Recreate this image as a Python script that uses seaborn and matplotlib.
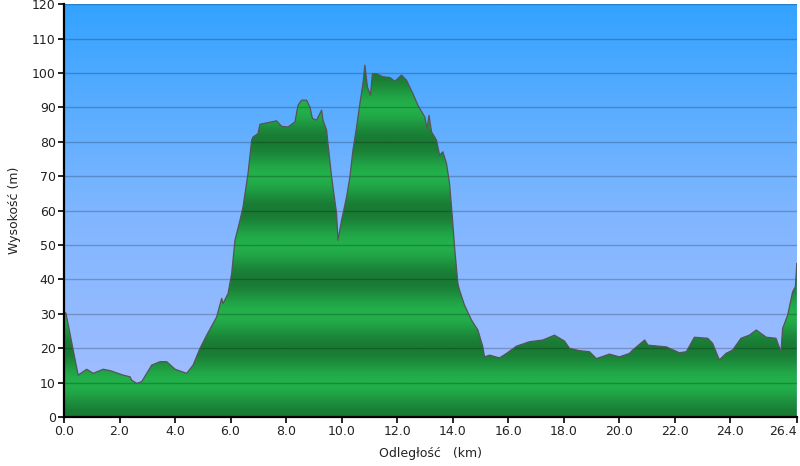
import numpy as np
import matplotlib
matplotlib.use("Agg")
import matplotlib.pyplot as plt
import seaborn as sns
from matplotlib.colors import LinearSegmentedColormap

# elevation profile
distance_km = [0.00, 0.07, 0.51, 0.82, 1.05, 1.41, 1.66, 2.13, 2.38, 2.44, 2.62, 2.80,
               2.98, 3.16, 3.46, 3.70, 4.00, 4.42, 4.65, 4.90, 5.14, 5.50, 5.68, 5.73,
               5.91, 6.04, 6.16, 6.34, 6.45, 6.63, 6.76, 6.81, 6.99, 7.06, 7.30, 7.66,
               7.84, 8.07, 8.32, 8.43, 8.56, 8.74, 8.86, 8.95, 9.10, 9.28, 9.33, 9.46,
               9.51, 9.64, 9.82, 9.87, 10.00, 10.18, 10.30, 10.41, 10.54, 10.66, 10.77,
               10.84, 10.93, 11.04, 11.11, 11.26, 11.49, 11.74, 11.92, 12.16, 12.34,
               12.57, 12.75, 13.00, 13.08, 13.15, 13.24, 13.42, 13.53, 13.65, 13.78,
               13.89, 13.99, 14.07, 14.19, 14.25, 14.43, 14.68, 14.91, 15.09, 15.15,
               15.33, 15.69, 15.94, 16.30, 16.77, 17.25, 17.67, 18.03, 18.21, 18.57,
               18.93, 19.18, 19.65, 20.01, 20.37, 20.49, 20.92, 21.04, 21.70, 22.17,
               22.42, 22.71, 23.19, 23.37, 23.61, 23.85, 24.09, 24.39, 24.69, 24.94,
               25.30, 25.65, 25.83, 25.89, 26.07, 26.25, 26.35, 26.40]
elevation_m = [30.5, 30.2, 12.2, 13.9, 12.7, 13.9, 13.5, 12.2, 11.7, 10.7, 9.8, 10.3,
               12.7, 15.1, 16.1, 16.1, 13.9, 12.7, 15.1, 20.0, 23.8, 29.1, 34.5, 33.0,
               35.9, 41.7, 51.4, 57.2, 61.1, 70.8, 80.5, 81.4, 82.4, 85.1, 85.5, 86.1,
               84.5, 84.3, 85.8, 90.6, 92.1, 92.1, 90.1, 86.8, 86.3, 89.2, 86.3, 83.4,
               79.5, 69.8, 59.2, 51.4, 57.2, 64.0, 69.8, 77.6, 84.3, 91.1, 96.9,
               102.3, 96.0, 93.5, 99.8, 99.8, 98.9, 98.7, 97.6, 99.4, 97.9,
               94.0, 90.6, 87.2, 83.9, 87.7, 82.9, 80.5, 76.1, 77.1, 73.7,
               67.9, 58.2, 49.5, 38.8, 36.9, 32.5, 28.2, 25.3, 20.4, 17.5,
               18.0, 17.2, 18.5, 20.6, 21.9, 22.4, 23.8, 22.1, 20.0, 19.3,
               19.0, 17.0, 18.3, 17.5, 18.5, 19.5, 22.4, 20.9, 20.4, 18.7,
               19.0, 23.2, 22.9, 21.4, 16.6, 18.5, 19.5, 22.9, 23.8, 25.3,
               23.2, 22.9, 19.0, 25.8, 29.6, 36.4, 37.9, 44.7]

x_ticks = [0, 2, 4, 6, 8, 10, 12, 14, 16, 18, 20, 22, 24, 26.4]
y_ticks = list(range(0, 121, 10))

sns.set_style("ticks")
plt.rcParams["font.family"] = ["DejaVu Sans"]

fig = plt.figure(figsize=(8, 4.66), dpi=100)
ax = fig.add_axes([0.08, 0.105, 0.916, 0.886])
xmax, ymax = 26.4, 120

# sky gradient background
sky = LinearSegmentedColormap.from_list("sky", ["#a6beff", "#7fb6ff", "#33a3ff"])
ax.imshow(np.linspace(0, 1, 256).reshape(-1, 1), cmap=sky, origin="lower",
          extent=[0, xmax, 0, ymax], aspect="auto", zorder=0)

# banded green fill, clipped to the profile
poly = ax.fill_between(distance_km, elevation_m, 0, color="none", zorder=1)
yy = np.linspace(0, ymax, 1200)
band = 0.5 - 0.5 * np.cos(2 * np.pi * yy / 20.0)
green = LinearSegmentedColormap.from_list("green", ["#197a34", "#23b04b"])
im = ax.imshow(band.reshape(-1, 1), cmap=green, origin="lower",
               extent=[0, xmax, 0, ymax], aspect="auto", zorder=2)
im.set_clip_path(poly.get_paths()[0], transform=ax.transData)

sns.lineplot(x=distance_km, y=elevation_m, ax=ax, color="#555555", lw=0.9, zorder=3)

ax.set_xlim(0, xmax)
ax.set_ylim(0, ymax)
ax.set_xticks(x_ticks)
ax.set_xticklabels([f"{t:.1f}" for t in x_ticks])
ax.set_yticks(y_ticks)
ax.yaxis.grid(True, color="black", alpha=0.22, lw=1.0)
ax.xaxis.grid(False)
ax.set_axisbelow(False)
for g in ax.get_ygridlines():
    g.set_zorder(4)

for s in ["top", "right"]:
    ax.spines[s].set_visible(False)
for s in ["left", "bottom"]:
    ax.spines[s].set_linewidth(1.6)
    ax.spines[s].set_color("black")
    ax.spines[s].set_zorder(5)
ax.tick_params(axis="both", length=4, width=1.2, color="black",
               labelsize=9, labelcolor="#222222", pad=2)
# last tick label sits flush against the right edge
ax.get_xticklabels()[-1].set_horizontalalignment("right")

ax.set_xlabel("Odległość   (km)", fontsize=9, color="#222222", labelpad=6)
ax.set_ylabel("Wysokość (m)", fontsize=9, color="#222222", labelpad=8)

fig.savefig("out.png", dpi=100)
